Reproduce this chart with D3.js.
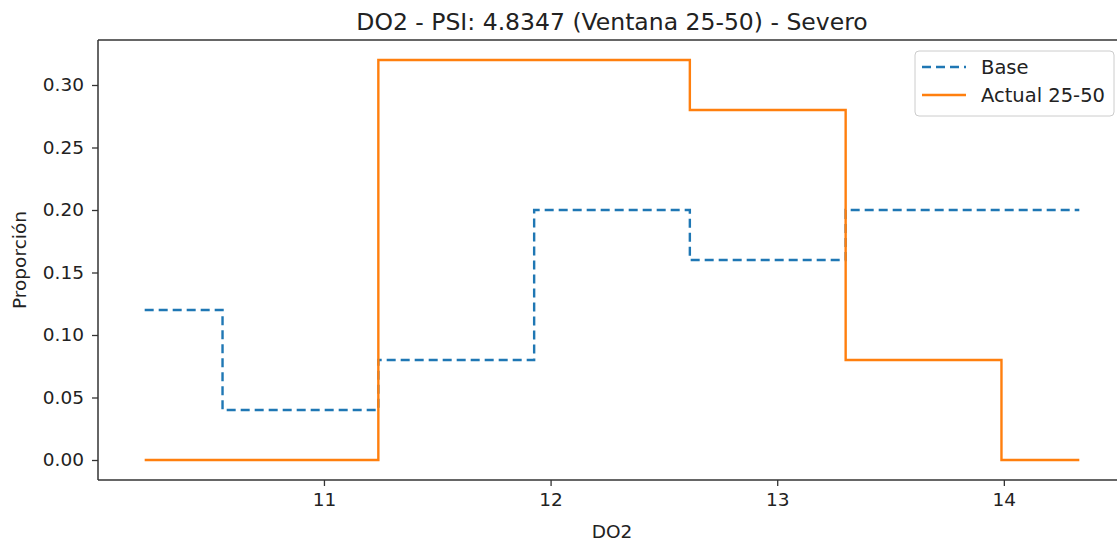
<!DOCTYPE html>
<html>
<head>
<meta charset="utf-8">
<script src="https://cdn.jsdelivr.net/npm/d3@7"></script>
<style>
  body { margin: 0; background: #fff; }
  svg { display: block; font-family: "DejaVu Sans", sans-serif; }
</style>
</head>
<body>
<svg id="chart" width="1117" height="543"></svg>
<script>
// bin centers of DO2 and proportions
var binCenters = [10.209, 10.896, 11.584, 12.271, 12.958, 13.646, 14.333];
var baseVals = [0.12, 0.04, 0.08, 0.20, 0.16, 0.20, 0.20];
var actualVals = [0.00, 0.00, 0.32, 0.32, 0.28, 0.08, 0.00];
var xTicks = [11, 12, 13, 14];
var yTicks = [0, 0.05, 0.10, 0.15, 0.20, 0.25, 0.30];
var seriesNames = ["Base", "Actual 25-50"];

var svg = d3.select("#chart");
var plotL = 98, plotR = 1126, plotT = 40, plotB = 480;

var x = d3.scaleLinear().domain([10.003, 14.539]).range([plotL, plotR]);
var y = d3.scaleLinear().domain([-0.016, 0.336]).range([plotB, plotT]);

// title
svg.append("text")
  .attr("x", (plotL + plotR) / 2).attr("y", 30)
  .attr("text-anchor", "middle")
  .style("font-size", "23.5px").attr("fill", "#222")
  .text("DO2 - PSI: 4.8347 (Ventana 25-50) - Severo");

// lines
var line = d3.line().curve(d3.curveStep);
function pts(vals) {
  return vals.map(function (v, i) { return [x(binCenters[i]), y(v)]; });
}

svg.append("path")
  .attr("d", line(pts(baseVals)))
  .attr("fill", "none").attr("stroke", "#1f77b4")
  .attr("stroke-width", 2.4).attr("stroke-dasharray", "9,5");

svg.append("path")
  .attr("d", line(pts(actualVals)))
  .attr("fill", "none").attr("stroke", "#ff7f0e")
  .attr("stroke-width", 2.4);

// axes
var gx = svg.append("g").attr("transform", "translate(0," + plotB + ")")
  .call(d3.axisBottom(x).tickValues(xTicks).tickSize(6).tickPadding(7).tickFormat(d3.format("d")));
var gy = svg.append("g").attr("transform", "translate(" + plotL + ",0)")
  .call(d3.axisLeft(y).tickValues(yTicks).tickSize(6).tickPadding(8).tickFormat(d3.format(".2f")));

[gx, gy].forEach(function (g) {
  g.select(".domain").attr("stroke", "#333").attr("stroke-width", 1.5)
    .attr("d", g === gx ? "M" + plotL + ",0H" + plotR : "M0," + plotB + "V" + plotT);
  g.selectAll(".tick line").attr("stroke", "#333").attr("stroke-width", 1.3);
  g.selectAll(".tick text").attr("fill", "#222")
    .style("font-size", "18.5px").style("font-family", "DejaVu Sans, sans-serif");
});

// top spine
svg.append("line")
  .attr("x1", plotL).attr("x2", plotR).attr("y1", plotT).attr("y2", plotT)
  .attr("stroke", "#333").attr("stroke-width", 1.5);

// axis labels
svg.append("text")
  .attr("x", (plotL + plotR) / 2).attr("y", 538)
  .attr("text-anchor", "middle")
  .style("font-size", "18.5px").attr("fill", "#222")
  .text("DO2");

svg.append("text")
  .attr("transform", "translate(26," + (plotT + plotB) / 2 + ") rotate(-90)")
  .attr("text-anchor", "middle")
  .style("font-size", "18.5px").attr("fill", "#222")
  .text("Proporción");

// legend
var lg = svg.append("g");
lg.append("rect")
  .attr("x", 915).attr("y", 51).attr("width", 199).attr("height", 65)
  .attr("rx", 4).attr("fill", "#fff").attr("stroke", "#ccc").attr("stroke-width", 1);

var legendStyles = [
  { color: "#1f77b4", dash: "9,5" },
  { color: "#ff7f0e", dash: null }
];
seriesNames.forEach(function (name, i) {
  var yy = 67 + i * 28;
  lg.append("line")
    .attr("x1", 922).attr("x2", 966).attr("y1", yy).attr("y2", yy)
    .attr("stroke", legendStyles[i].color).attr("stroke-width", 2.4)
    .attr("stroke-dasharray", legendStyles[i].dash);
  lg.append("text")
    .attr("x", 981).attr("y", yy + 7)
    .style("font-size", "19.5px").attr("fill", "#222")
    .text(name);
});
</script>
</body>
</html>
